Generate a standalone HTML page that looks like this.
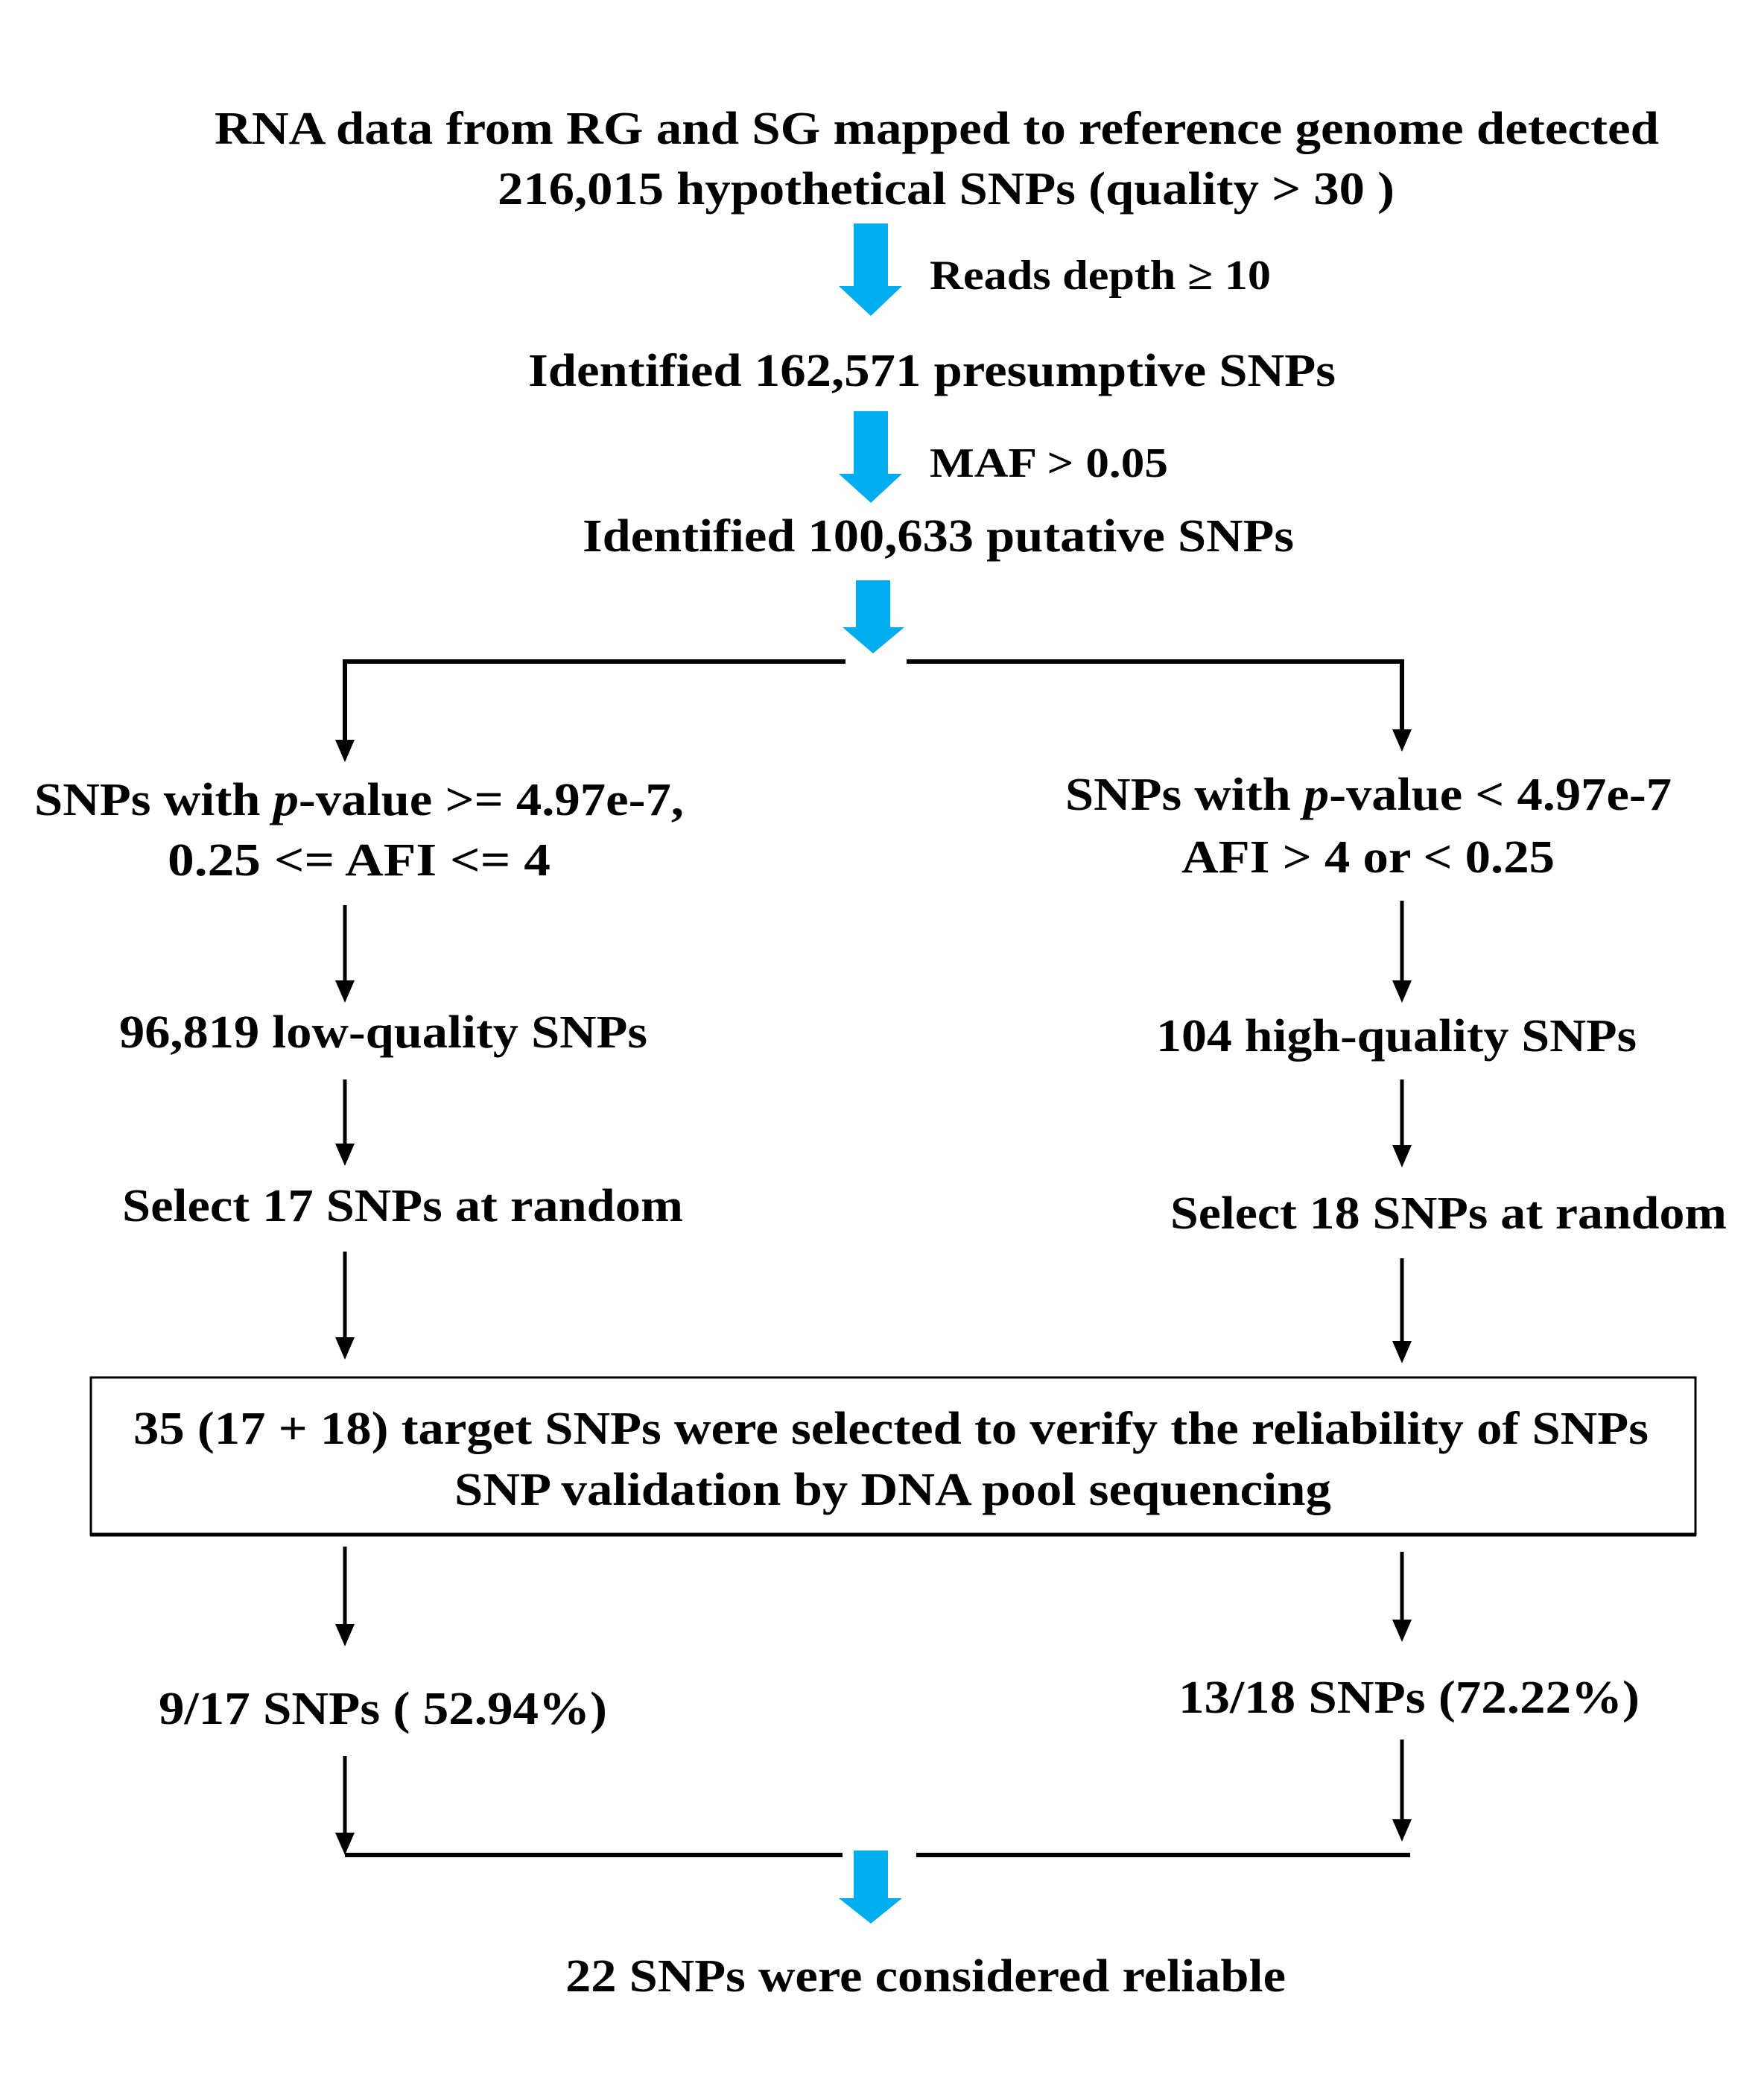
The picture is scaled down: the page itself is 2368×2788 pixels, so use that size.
<!DOCTYPE html>
<html><head><meta charset="utf-8"><style>
html,body{margin:0;padding:0;background:#fff;}
svg{display:block;}
text{font-family:"Liberation Serif",serif;font-weight:bold;font-size:62px;fill:#000;}
</style></head><body>
<svg width="2368" height="2788" viewBox="0 0 2368 2788" xmlns="http://www.w3.org/2000/svg">
<defs>
<marker id="ah" markerWidth="10" markerHeight="10" refX="5" refY="9" orient="auto" markerUnits="userSpaceOnUse"></marker>
</defs>
<rect width="2368" height="2788" fill="#fff"/>

<!-- texts -->
<text x="288" y="193" textLength="1939" lengthAdjust="spacingAndGlyphs">RNA data from RG and SG mapped to reference genome detected</text>
<text x="668" y="274" textLength="1204" lengthAdjust="spacingAndGlyphs">216,015 hypothetical SNPs (quality &gt; 30 )</text>
<text x="1248" y="388" textLength="458" lengthAdjust="spacingAndGlyphs" style="font-size:56px">Reads depth ≥ 10</text>
<text x="709" y="518" textLength="1084" lengthAdjust="spacingAndGlyphs">Identified 162,571 presumptive SNPs</text>
<text x="1248" y="640" textLength="320" lengthAdjust="spacingAndGlyphs" style="font-size:56px">MAF &gt; 0.05</text>
<text x="782" y="740" textLength="955" lengthAdjust="spacingAndGlyphs">Identified 100,633 putative SNPs</text>

<text x="46" y="1094" textLength="872" lengthAdjust="spacingAndGlyphs">SNPs with <tspan font-style="italic">p</tspan>-value &gt;= 4.97e-7,</text>
<text x="225" y="1175" textLength="514" lengthAdjust="spacingAndGlyphs">0.25  &lt;= AFI &lt;= 4</text>
<text x="1430" y="1087" textLength="814" lengthAdjust="spacingAndGlyphs">SNPs with <tspan font-style="italic">p</tspan>-value &lt; 4.97e-7</text>
<text x="1586" y="1171" textLength="501" lengthAdjust="spacingAndGlyphs">AFI &gt; 4 or &lt; 0.25</text>

<text x="160" y="1406" textLength="709" lengthAdjust="spacingAndGlyphs">96,819 low-quality SNPs</text>
<text x="1552" y="1411" textLength="645" lengthAdjust="spacingAndGlyphs">104 high-quality SNPs</text>
<text x="164" y="1639" textLength="753" lengthAdjust="spacingAndGlyphs">Select 17 SNPs at random</text>
<text x="1571" y="1649" textLength="747" lengthAdjust="spacingAndGlyphs">Select 18 SNPs at random</text>

<rect x="122" y="1849" width="2154" height="211" fill="none" stroke="#000" stroke-width="3"/>
<line x1="121" y1="2060" x2="2277" y2="2060" stroke="#000" stroke-width="5"/>
<text x="179" y="1938" textLength="2034" lengthAdjust="spacingAndGlyphs">35 (17 + 18) target SNPs were selected to verify the reliability of SNPs</text>
<text x="610" y="2020" textLength="1177" lengthAdjust="spacingAndGlyphs">SNP validation by DNA pool sequencing</text>

<text x="213" y="2314" textLength="602" lengthAdjust="spacingAndGlyphs">9/17 SNPs ( 52.94%)</text>
<text x="1582" y="2299" textLength="619" lengthAdjust="spacingAndGlyphs">13/18 SNPs (72.22%)</text>
<text x="759" y="2673" textLength="967" lengthAdjust="spacingAndGlyphs">22 SNPs were considered reliable</text>

<!-- blue arrows -->
<g fill="#00aeef">
<polygon points="1146,300 1192,300 1192,384 1211,384 1169,424 1126,384 1146,384"/>
<polygon points="1146,552 1192,552 1192,636 1211,636 1169,675 1126,636 1146,636"/>
<polygon points="1149,779 1195,779 1195,842 1214,842 1172,877 1131,842 1149,842"/>
<polygon points="1146,2484 1192,2484 1192,2548 1211,2548 1169,2582 1126,2548 1146,2548"/>
</g>

<!-- black lines -->
<g stroke="#000" stroke-width="6" fill="none">
<line x1="460" y1="888" x2="1135" y2="888"/>
<line x1="1217" y1="888" x2="1885" y2="888"/>
<line x1="463" y1="885" x2="463" y2="995"/>
<line x1="1882" y1="885" x2="1882" y2="981"/>
<line x1="463" y1="2490" x2="1131" y2="2490"/>
<line x1="1230" y1="2490" x2="1893" y2="2490"/>
</g>
<g stroke="#000" stroke-width="5">
<line x1="463" y1="1215" x2="463" y2="1318"/>
<line x1="1882" y1="1209" x2="1882" y2="1318"/>
<line x1="463" y1="1449" x2="463" y2="1537"/>
<line x1="1882" y1="1449" x2="1882" y2="1539"/>
<line x1="463" y1="1680" x2="463" y2="1797"/>
<line x1="1882" y1="1689" x2="1882" y2="1802"/>
<line x1="463" y1="2076" x2="463" y2="2182"/>
<line x1="1882" y1="2083" x2="1882" y2="2176"/>
<line x1="463" y1="2357" x2="463" y2="2462"/>
<line x1="1882" y1="2335" x2="1882" y2="2444"/>
</g>
<g fill="#000">
<polygon points="450,993 476,993 463,1023"/>
<polygon points="1869,979 1895,979 1882,1009"/>
<polygon points="450,1316 476,1316 463,1346"/>
<polygon points="1869,1316 1895,1316 1882,1346"/>
<polygon points="450,1535 476,1535 463,1565"/>
<polygon points="1869,1537 1895,1537 1882,1567"/>
<polygon points="450,1795 476,1795 463,1825"/>
<polygon points="1869,1800 1895,1800 1882,1830"/>
<polygon points="450,2180 476,2180 463,2210"/>
<polygon points="1869,2174 1895,2174 1882,2204"/>
<polygon points="450,2460 476,2460 463,2490"/>
<polygon points="1869,2442 1895,2442 1882,2472"/>
</g>
</svg>
</body></html>
